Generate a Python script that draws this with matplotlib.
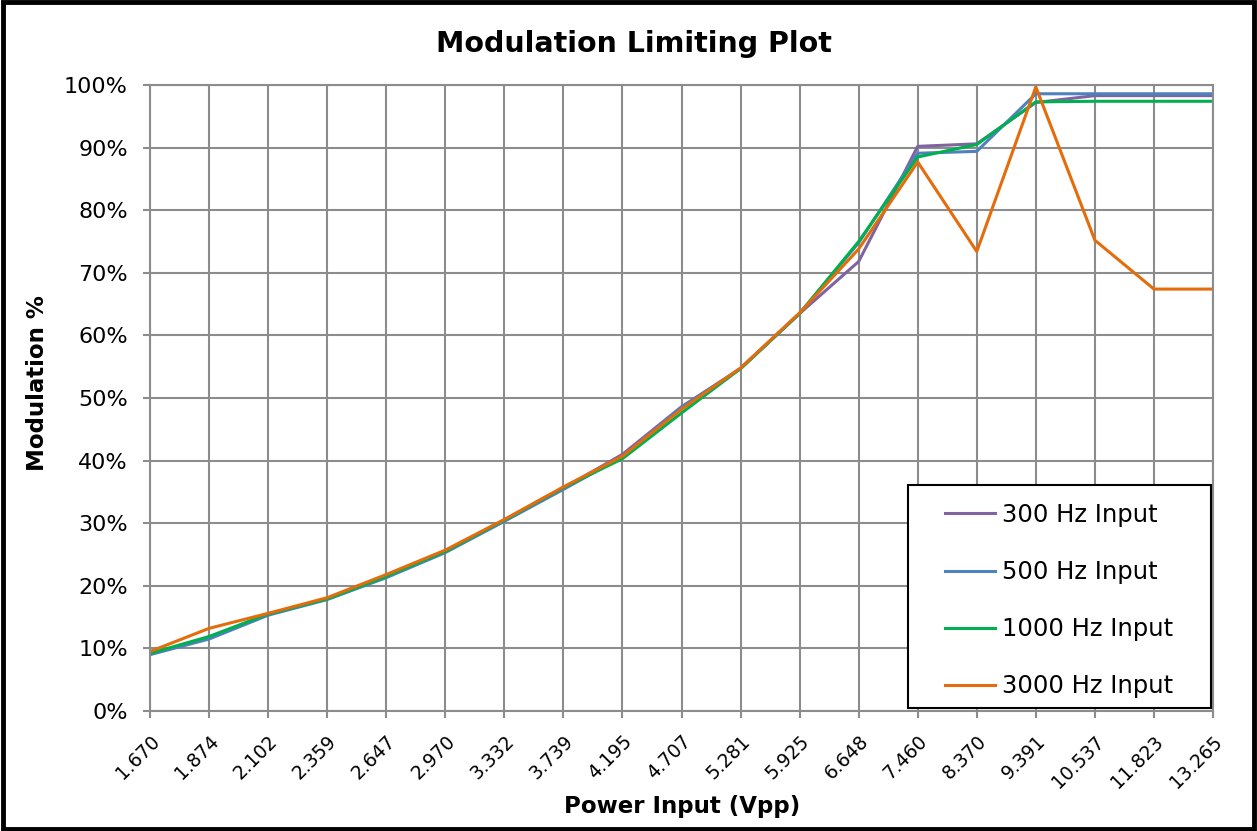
import matplotlib
matplotlib.use("Agg")
import matplotlib.pyplot as plt
from matplotlib.patches import Rectangle
from matplotlib.ticker import FuncFormatter, MultipleLocator

categories = ["1.670", "1.874", "2.102", "2.359", "2.647", "2.970", "3.332", "3.739",
              "4.195", "4.707", "5.281", "5.925", "6.648", "7.460", "8.370", "9.391",
              "10.537", "11.823", "13.265"]

hz300 = [9.1, 11.6, 15.5, 17.9, 21.4, 25.5, 30.4, 35.6, 41.0, 48.6, 54.7, 63.5, 71.8,
         90.2, 90.6, 97.2, 98.3, 98.3, 98.3]
hz500 = [9.0, 11.5, 15.3, 17.8, 21.3, 25.3, 30.3, 35.4, 40.6, 48.5, 54.7, 63.5, 74.8,
         89.1, 89.4, 98.6, 98.6, 98.6, 98.6]
hz1000 = [9.2, 11.9, 15.5, 17.9, 21.5, 25.5, 30.5, 35.7, 40.3, 47.6, 54.7, 63.5, 75.0,
          88.5, 90.5, 97.3, 97.4, 97.4, 97.4]
hz3000 = [9.5, 13.2, 15.6, 18.1, 21.8, 25.7, 30.6, 35.8, 40.7, 48.2, 54.8, 63.6, 73.8,
          87.7, 73.4, 99.7, 75.2, 67.4, 67.4]

series_names = ["300 Hz Input", "500 Hz Input", "1000 Hz Input", "3000 Hz Input"]
series_values = [hz300, hz500, hz1000, hz3000]
series_colors = ["#8064a2", "#4f81bd", "#00b050", "#e46c0a"]

plt.rcParams['font.family'] = ['DejaVu Sans']

W, H = 1257, 831
fig = plt.figure(figsize=(W / 100, H / 100), dpi=100)
ax = fig.add_axes([150 / W, 1 - 711 / H, (1213 - 150) / W, (711 - 85) / H])

x = list(range(len(categories)))
for name, vals, col in zip(series_names, series_values, series_colors):
    ax.plot(x, vals, color=col, lw=2.2, label=name)

ax.set_xlim(0, len(categories) - 1)
ax.set_ylim(0, 100)
ax.yaxis.set_major_locator(MultipleLocator(10))
ax.yaxis.set_major_formatter(FuncFormatter(lambda v, p: f"{v:.0f}%"))
ax.set_xticks(x)
ax.set_xticklabels(categories, rotation=45, ha='right', va='top', rotation_mode='anchor',
                   fontsize=13.5)
ax.tick_params(axis='y', labelsize=16, length=5, color='#8c8c8c', width=1.5, pad=11)
ax.tick_params(axis='x', length=5, color='#8c8c8c', width=1.5, pad=10)
ax.grid(True, color='#8c8c8c', lw=1.5)
ax.set_axisbelow(True)
for s in ax.spines.values():
    s.set_color('#8c8c8c')
    s.set_linewidth(1.5)

fig.text(682 / W, 1 - 806 / H, "Power Input (Vpp)", ha='center', va='center',
         fontsize=16.5, fontweight='bold')
fig.text(38 / W, 1 - 383 / H, "Modulation %", ha='center', va='center', rotation=90,
         fontsize=16.5, fontweight='bold')
fig.text(634 / W, 1 - 44 / H, "Modulation Limiting Plot", ha='center', va='center',
         fontsize=20.5, fontweight='bold')

leg = ax.legend(loc='upper left', bbox_to_anchor=(945 / W, 1 - 503 / H),
                bbox_transform=fig.transFigure, fontsize=17.5, frameon=False,
                borderpad=0, labelspacing=1.36, handlelength=2.05,
                handletextpad=0.3, borderaxespad=0)
for line in leg.get_lines():
    line.set_linewidth(2.2)
leg.set_zorder(6)

ax.add_patch(Rectangle((908 / W, 1 - 708 / H), (1211 - 908) / W, (708 - 485) / H,
                       transform=fig.transFigure, facecolor='white',
                       edgecolor='black', lw=1.5, zorder=5, clip_on=False))

fig.patches.append(Rectangle((0.002, 0.003), 0.996, 0.994, transform=fig.transFigure,
                             fill=False, edgecolor='black', lw=3.5))

fig.savefig("out.png", dpi=100)
